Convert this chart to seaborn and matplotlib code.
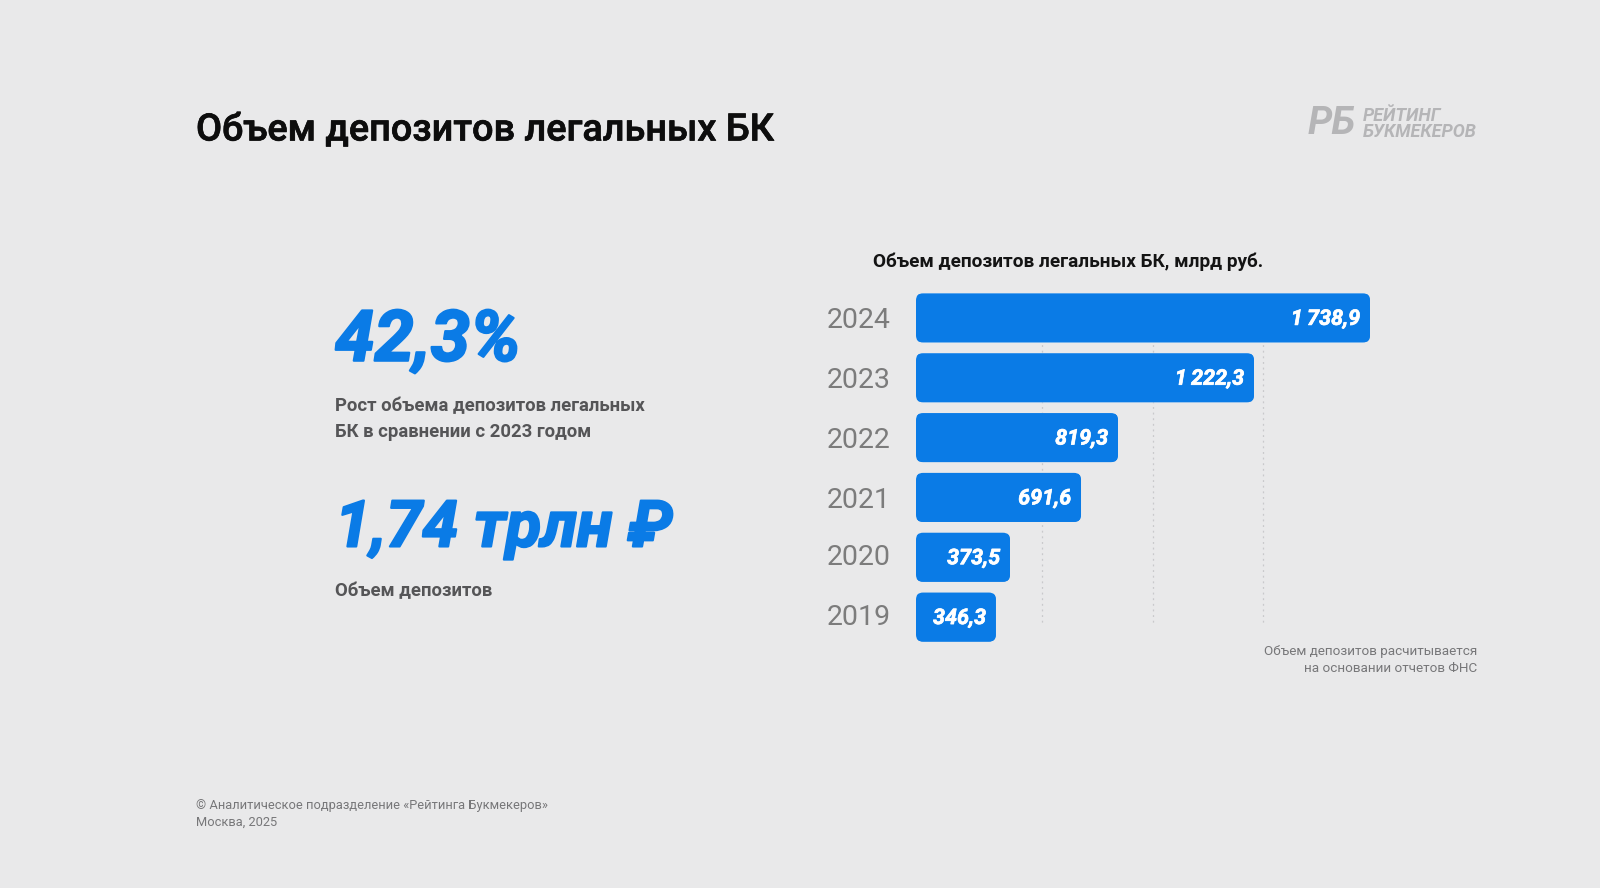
import matplotlib
matplotlib.use("Agg")
import matplotlib.pyplot as plt
import matplotlib.patheffects as pe
from matplotlib.patches import FancyBboxPatch
from matplotlib.transforms import ScaledTranslation
import pandas as pd
import seaborn as sns

# -----------------------------
# data
# -----------------------------
years = ['2024', '2023', '2022', '2021', '2020', '2019']
value_labels = ['1\u2009738,9', '1\u2009222,3', '819,3', '691,6', '373,5', '346,3']
# bars in the source slide are not to scale, so lengths are the drawn ones
drawn_lengths = [1738.9, 1294.6, 773.7, 632.0, 360.0, 306.0]
grid_values = [483, 908, 1329]

W, H = 1600, 888
BG = '#e9e9ea'
BLUE = '#0a7be6'
FONT = ['Roboto', 'DejaVu Sans']


def fx(x):
    return x / W


def fy(y):
    return 1 - y / H


sns.set_theme(style="white")
plt.rcParams['font.family'] = FONT

fig = plt.figure(figsize=(16, 8.88), dpi=100, facecolor=BG)
ax = fig.add_axes([fx(916), fy(647), (1370 - 916) / W, 359 / H], facecolor='none')

df = pd.DataFrame({'year': years, 'length': drawn_lengths})
sns.barplot(data=df, x='length', y='year', color=BLUE, saturation=1, width=0.82, ax=ax, zorder=3)

# dotted guide lines behind the bars
for g in grid_values:
    ax.vlines(g, -0.4, 5.13, color='#c9c9cb', lw=0.9, ls=(0, (1.5, 3)), zorder=1)

ax.set_xlim(0, 1738.9)
ax.set_ylim(5.5, -0.5)
ax.set_xlabel('')
ax.set_ylabel('')
ax.set_xticks([])
sns.despine(ax=ax, left=True, bottom=True)
ax.tick_params(axis='y', length=0, pad=18, labelsize=20.5, labelcolor='#7c7c7c')

# the lower labels sit a little high in the slide
for tick_label in ax.get_yticklabels():
    if tick_label.get_text() in ('2020', '2019'):
        tick_label.set_transform(tick_label.get_transform()
                                 + ScaledTranslation(0, 2.5 / 100, fig.dpi_scale_trans))

# rounded corners and value labels
radius_x = 7 * 1738.9 / 454
radius_y = 7 / 59.8
for bar, lab in zip(list(ax.patches), value_labels):
    x0, y0, w, h = bar.get_x(), bar.get_y(), bar.get_width(), bar.get_height()
    round_box = FancyBboxPatch((x0 + radius_x, y0 + radius_y), w - 2 * radius_x, h - 2 * radius_y,
                               boxstyle=f"round,pad={radius_x},rounding_size={radius_x}",
                               mutation_aspect=radius_y / radius_x,
                               transform=ax.transData, facecolor=BLUE, edgecolor='none', zorder=3)
    ax.add_patch(round_box)
    bar.set_clip_path(round_box)
    ax.annotate(lab, (x0 + w, y0 + h / 2), xytext=(-7, -0.7), textcoords='offset points',
                ha='right', va='center', color='white', fontsize=15.5,
                fontweight='bold', fontstyle='italic', zorder=4,
                path_effects=[pe.withStroke(linewidth=0.5, foreground='white')])

# header
fig.text(fx(196), fy(130), 'Объем депозитов легальных БК', fontsize=27.2, fontweight='medium',
         color='#0d0d0d', va='center', ha='left',
         path_effects=[pe.withStroke(linewidth=0.5, foreground='#0d0d0d')])
fig.text(fx(873), fy(262), 'Объем депозитов легальных БК, млрд руб.', fontsize=13.7, fontweight='bold',
         color='#141414', va='center', ha='left')

# logo as text
logo_style = dict(color='#b5b5b7', fontweight='bold', fontstyle='italic', va='center', ha='left')
fig.text(fx(1308), fy(124), 'РБ', fontsize=28, **logo_style)
fig.text(fx(1363), fy(124), 'РЕЙТИНГ\nБУКМЕКЕРОВ', fontsize=13, linespacing=0.85, **logo_style)

# left column
big_style = dict(color=BLUE, fontweight='bold', fontstyle='italic', va='center', ha='left',
                 path_effects=[pe.withStroke(linewidth=1.5, foreground=BLUE)])
fig.text(fx(335), fy(342), '42,3%', fontsize=51, **big_style)
fig.text(fx(335), fy(529), '1,74 трлн ₽', fontsize=46.5, **big_style)

sub_style = dict(color='#555557', fontweight='bold', fontsize=13.3, va='center', ha='left')
fig.text(fx(335), fy(406), 'Рост объема депозитов легальных', **sub_style)
fig.text(fx(335), fy(432), 'БК в сравнении с 2023 годом', **sub_style)
fig.text(fx(335), fy(591), 'Объем депозитов', **sub_style)

# notes
note_style = dict(color='#777779', va='center')
fig.text(fx(1477), fy(651), 'Объем депозитов расчитывается', ha='right', fontsize=9.7, **note_style)
fig.text(fx(1477), fy(668), 'на основании отчетов ФНС', ha='right', fontsize=9.7, **note_style)
fig.text(fx(196), fy(805), '© Аналитическое подразделение «Рейтинга Букмекеров»', ha='left', fontsize=9.3, **note_style)
fig.text(fx(196), fy(822), 'Москва, 2025', ha='left', fontsize=9.3, **note_style)

fig.savefig('out.png', dpi=100, facecolor=BG)
